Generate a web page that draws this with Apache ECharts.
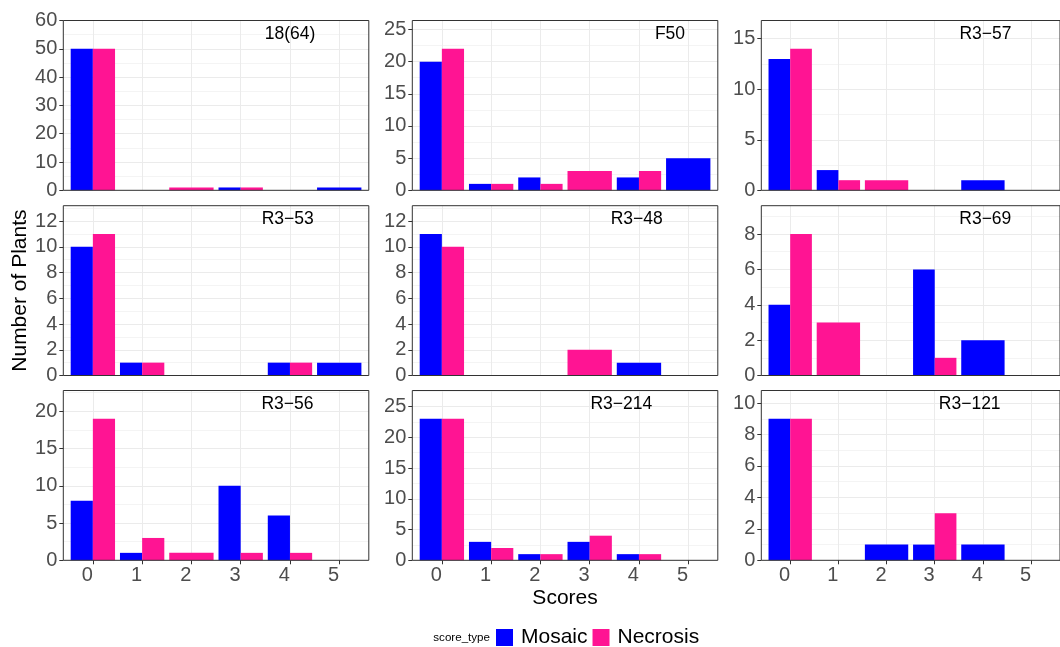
<!DOCTYPE html>
<html>
<head>
<meta charset="utf-8">
<script src="https://cdn.jsdelivr.net/npm/echarts@6/dist/echarts.min.js"></script>
<style>
  html, body { margin: 0; padding: 0; background: #ffffff; }
  #chart { width: 1060px; height: 647px; }
</style>
</head>
<body>
<div id="chart"></div>
<script>
// ---- data: number of plants per score (0..5), one row per line ----
const scores = [0, 1, 2, 3, 4, 5];
const panelNames = ['18(64)', 'F50', 'R3−57', 'R3−53', 'R3−48', 'R3−69', 'R3−56', 'R3−214', 'R3−121'];
const mosaicCounts = [
  [50, 0, 0, 1, 0, 1],
  [20, 1, 2, 0, 2, 5],
  [13, 2, 0, 0, 1, 0],
  [10, 1, 0, 0, 1, 1],
  [11, 0, 0, 0, 1, 0],
  [4, 0, 0, 6, 2, 0],
  [8, 1, 0, 10, 6, 0],
  [23, 3, 1, 3, 1, 0],
  [9, 0, 1, 1, 1, 0]
];
const necrosisCounts = [
  [50, 0, 1, 1, 0, 0],
  [22, 1, 1, 3, 3, 0],
  [14, 1, 1, 0, 0, 0],
  [11, 1, 0, 0, 1, 0],
  [10, 0, 0, 2, 0, 0],
  [8, 3, 0, 1, 0, 0],
  [19, 3, 1, 1, 1, 0],
  [23, 2, 1, 4, 1, 0],
  [9, 0, 0, 3, 0, 0]
];
// y-axis break step for each panel
const yBreakStep = [10, 5, 5, 2, 2, 2, 5, 5, 2];

// ---- layout & style ----
const FONT = "'Liberation Sans', Arial, sans-serif";
const MOSAIC_COLOR = '#0000FF';
const NECROSIS_COLOR = '#FF1493';
const colLeft = [63.3, 412.3, 761.3];
const rowTop = [20.5, 205.7, 390.5];
const panelW = 305.5;
const panelH = 169.8;
const labelDx = [226.7, 257.7, 224.2, 224.4, 224.4, 224.0, 224.2, 209.0, 208.4];
const labelDy = 13.3;
const halfBar = 0.45;      // dodged bar width: 0.9 shared by the groups present
const yExpand = 1.2;       // headroom above the tallest bar

const grids = [], xAxes = [], yAxes = [], series = [], graphics = [];

function renderBar(params, api) {
  const top = api.coord([api.value(2), api.value(1)]);
  const bottom = api.coord([api.value(3), 0]);
  return {
    type: 'rect',
    shape: { x: top[0], y: top[1], width: bottom[0] - top[0], height: bottom[1] - top[1] },
    style: { fill: api.visual('color') }
  };
}

panelNames.forEach((name, p) => {
  const r = Math.floor(p / 3), c = p % 3;
  const mos = mosaicCounts[p], nec = necrosisCounts[p];
  const yMax = Math.max(...mos, ...nec) * yExpand;
  const step = yBreakStep[p];
  const majors = [], minors = [];
  for (let v = 0; v <= yMax + 1e-9; v += step) majors.push(+v.toFixed(6));
  for (let v = step / 2; v <= yMax + 1e-9; v += step) minors.push(+v.toFixed(6));

  grids.push({
    left: colLeft[c], top: rowTop[r], width: panelW, height: panelH,
    show: true, borderColor: '#333333', borderWidth: 1,
    backgroundColor: 'transparent', z: 5
  });

  xAxes.push({
    gridIndex: p, type: 'value', min: -0.6, max: 5.6, position: 'bottom',
    axisLine: { show: false, onZero: false },
    axisTick: { show: r === 2, customValues: scores, length: 4, lineStyle: { color: '#333333' } },
    axisLabel: {
      show: r === 2, customValues: scores, align: 'right', margin: 5,
      fontSize: 20, color: '#4D4D4D', fontFamily: FONT
    },
    splitLine: { show: true, lineStyle: { color: '#EBEBEB', width: 1 } },
    name: p === 7 ? 'Scores' : '',
    nameLocation: 'middle', nameGap: 27,
    nameTextStyle: { fontSize: 21, color: '#000000', fontFamily: FONT }
  });

  // main y axis: breaks, labels, major grid
  yAxes.push({
    gridIndex: p, type: 'value', min: 0, max: yMax, position: 'left',
    axisLine: { show: false, onZero: false },
    axisTick: { show: true, customValues: majors, length: 4, lineStyle: { color: '#333333' } },
    axisLabel: { customValues: majors, margin: 6, fontSize: 20, color: '#4D4D4D', fontFamily: FONT },
    splitLine: { show: true, lineStyle: { color: '#EBEBEB', width: 1 } },
    name: p === 3 ? 'Number of Plants' : '',
    nameLocation: 'middle', nameGap: 31,
    nameTextStyle: { fontSize: 21, color: '#000000', fontFamily: FONT }
  });
  // companion y axis: minor grid only
  yAxes.push({
    gridIndex: p, type: 'value', min: 0, max: yMax, position: 'left',
    axisLine: { show: false, onZero: false },
    axisTick: { show: false, customValues: minors },
    axisLabel: { show: false, customValues: minors },
    splitLine: { show: true, lineStyle: { color: '#F4F4F4', width: 1 } }
  });

  // dodged bars: two groups share a score's slot, a lone group fills it
  const mosData = [], necData = [];
  scores.forEach((s, i) => {
    const m = mos[i], n = nec[i];
    if (m > 0) mosData.push([s, m, s - halfBar, n > 0 ? s : s + halfBar]);
    if (n > 0) necData.push([s, n, m > 0 ? s : s - halfBar, s + halfBar]);
  });
  series.push({
    name: 'Mosaic', type: 'custom', xAxisIndex: p, yAxisIndex: 2 * p,
    itemStyle: { color: MOSAIC_COLOR }, renderItem: renderBar,
    encode: { x: 0, y: 1 }, data: mosData, z: 3
  });
  series.push({
    name: 'Necrosis', type: 'custom', xAxisIndex: p, yAxisIndex: 2 * p,
    itemStyle: { color: NECROSIS_COLOR }, renderItem: renderBar,
    encode: { x: 0, y: 1 }, data: necData, z: 3
  });

  graphics.push({
    type: 'text', z: 10,
    style: {
      x: colLeft[c] + labelDx[p], y: rowTop[r] + labelDy, text: name,
      align: 'center', verticalAlign: 'middle',
      fontSize: 17.5, fontFamily: FONT, fill: '#000000'
    }
  });
});

graphics.push({
  type: 'text', z: 10,
  style: {
    x: 490, y: 638, text: 'score_type', align: 'right', verticalAlign: 'middle',
    fontSize: 11.6, fontFamily: FONT, fill: '#000000'
  }
});

const chart = echarts.init(document.getElementById('chart'), null, { renderer: 'canvas' });
chart.setOption({
  animation: false,
  backgroundColor: '#ffffff',
  grid: grids,
  xAxis: xAxes,
  yAxis: yAxes,
  series: series,
  legend: {
    data: ['Mosaic', 'Necrosis'],
    left: 496, top: 627, padding: 0,
    icon: 'rect', itemWidth: 17, itemHeight: 17, itemGap: 5,
    selectedMode: false,
    textStyle: { fontSize: 21, color: '#000000', fontFamily: FONT, padding: [0, 0, 0, 3] }
  },
  graphic: graphics
});
</script>
</body>
</html>
